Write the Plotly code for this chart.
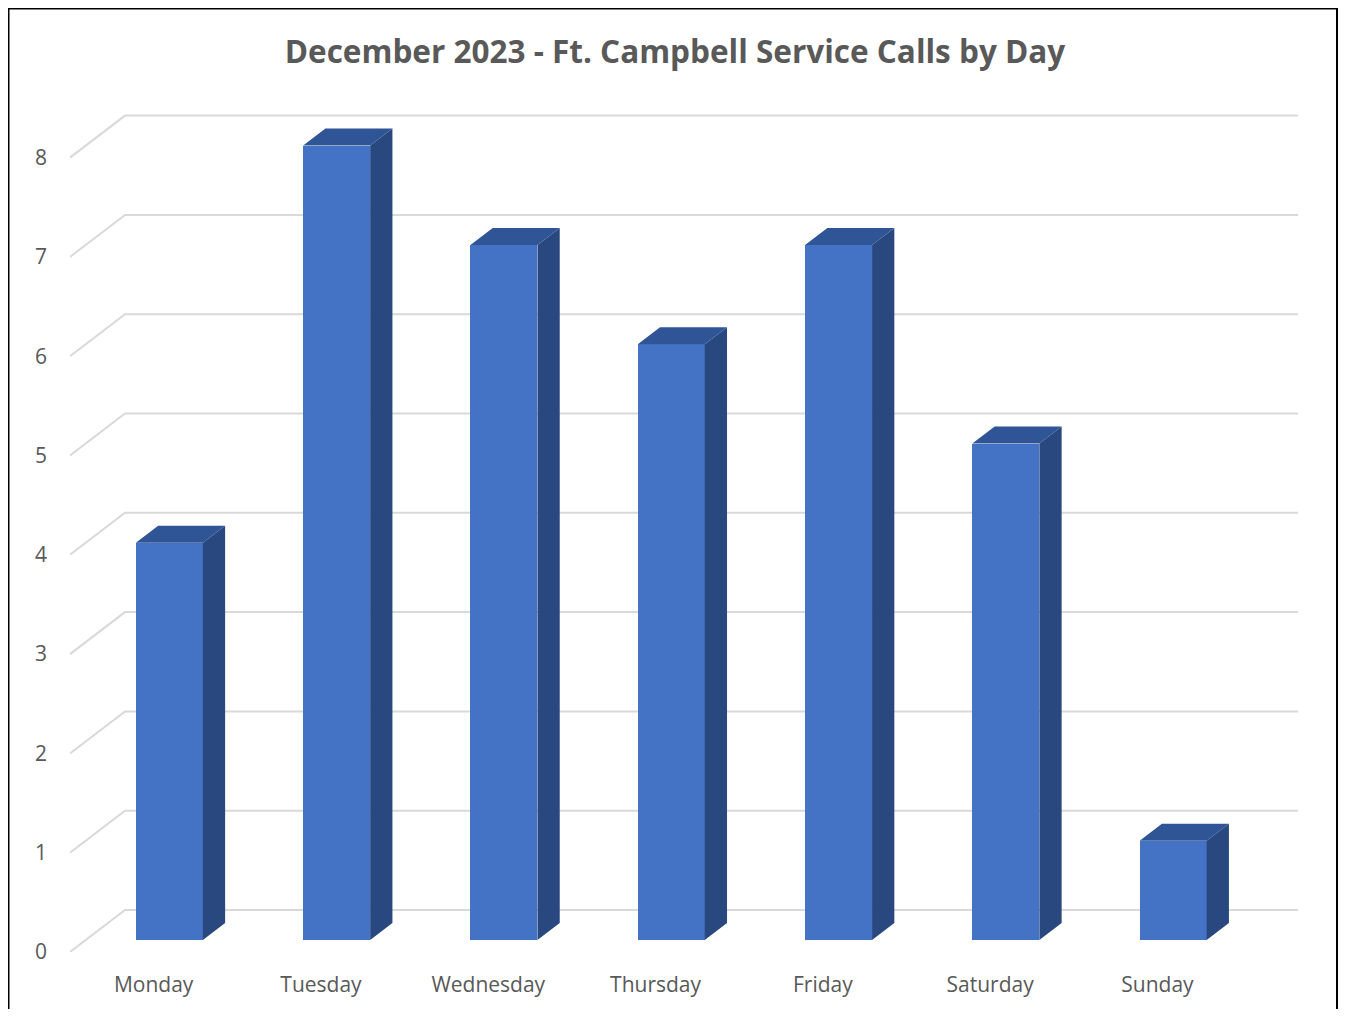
import plotly.graph_objects as go

# ---- data ----
days = ["Monday", "Tuesday", "Wednesday", "Thursday", "Friday", "Saturday", "Sunday"]
calls = [4, 8, 7, 6, 7, 5, 1]
y_ticks = [0, 1, 2, 3, 4, 5, 6, 7, 8]
title_text = "December 2023 - Ft. Campbell Service Calls by Day"

# ---- geometry / style (pixel-based oblique projection) ----
OFF = 8               # page body margin
W, H = 1346 - 2 * OFF, 1017 - 2 * OFF
L, R_EDGE, BOTTOM, TOP = 70 - OFF, 1298 - OFF, 952 - OFF, 100 - OFF
PX_X = 167.3          # px per category
PX_Y = 99.3           # px per value unit
SLANT = 55 / 42       # horizontal px per depth px
WALL_DEPTH = 42       # px
BAR_FRONT = 12        # px depth of bar front face
BAR_DEPTH = 17        # px depth of bar
BAR_W = 67 / PX_X

def dx(d):
    return SLANT * d / PX_X

def dy(d):
    return d / PX_Y

x0 = -0.5
x1 = x0 + (R_EDGE - L) / PX_X
ytop = (BOTTOM - TOP) / PX_Y

FRONT = "#4472C4"
SIDE = "#29487F"
TOPC = "#2F5597"
GRID = "#D9D9D9"
TXT = "#595959"
FONT = "Open Sans"

xs = list(range(len(days)))
fig = go.Figure()

# front faces as bars
bx = [i + dx(BAR_FRONT) for i in xs]
base = dy(BAR_FRONT)
fig.add_trace(go.Bar(x=bx, y=calls, base=[base] * len(calls), width=BAR_W,
                     marker=dict(color=FRONT, line=dict(width=0)),
                     hoverinfo="skip", showlegend=False))

# side faces and top faces
sx, sy = dx(BAR_DEPTH), dy(BAR_DEPTH)
side_x, side_y, top_x, top_y = [], [], [], []
for xc, v in zip(bx, calls):
    xl, xr = xc - BAR_W / 2, xc + BAR_W / 2
    yb, yt = base, base + v
    side_x += [xr, xr, xr + sx, xr + sx, xr, None]
    side_y += [yb, yt, yt + sy, yb + sy, yb, None]
    top_x += [xl, xr, xr + sx, xl + sx, xl, None]
    top_y += [yt, yt, yt + sy, yt + sy, yt, None]
fig.add_trace(go.Scatter(x=side_x, y=side_y, mode="lines", fill="toself",
                         fillcolor=SIDE, line=dict(width=0, color=SIDE),
                         hoverinfo="skip", showlegend=False))
fig.add_trace(go.Scatter(x=top_x, y=top_y, mode="lines", fill="toself",
                         fillcolor=TOPC, line=dict(width=0, color=TOPC),
                         hoverinfo="skip", showlegend=False))

# gridlines: side-wall diagonal + back-wall horizontal
for v in y_ticks:
    path = (f"M {x0},{v} L {x0 + dx(WALL_DEPTH)},{v + dy(WALL_DEPTH)} "
            f"L {x1},{v + dy(WALL_DEPTH)}")
    fig.add_shape(type="path", path=path, xref="x", yref="y", layer="below",
                  line=dict(color=GRID, width=2))

# outer border
def px2paper_x(p):
    return (p - L) / (R_EDGE - L)

def px2paper_y(p):
    return (BOTTOM - p) / (BOTTOM - TOP)

fig.add_shape(type="rect", xref="paper", yref="paper",
              x0=px2paper_x(0.5), x1=px2paper_x(W - 1),
              y0=px2paper_y(H + 20), y1=px2paper_y(0.5),
              line=dict(color="black", width=2), layer="above")

fig.update_layout(
    width=W, height=H,
    margin=dict(l=L, r=W - R_EDGE, t=TOP, b=H - BOTTOM, pad=0),
    plot_bgcolor="white", paper_bgcolor="white",
    title=dict(text=f"<b>{title_text}</b>", x=(675 - OFF) / W, xanchor="center",
               xref="container", y=1 - (52 - OFF) / H, yref="container",
               yanchor="middle",
               font=dict(family=FONT, size=31.5, color=TXT)),
    xaxis=dict(range=[x0, x1], tickvals=xs, ticktext=days, showgrid=False,
               zeroline=False, showline=False, ticks="", ticklabelstandoff=18,
               tickfont=dict(family=FONT, size=21, color=TXT), fixedrange=True),
    yaxis=dict(range=[0, ytop], tickvals=y_ticks, ticktext=[str(t) for t in y_ticks],
               showgrid=False, zeroline=False, showline=False, ticks="",
               ticklabelstandoff=22,
               tickfont=dict(family=FONT, size=21, color=TXT), fixedrange=True),
    bargap=0,
)

fig.write_html("out.html")
